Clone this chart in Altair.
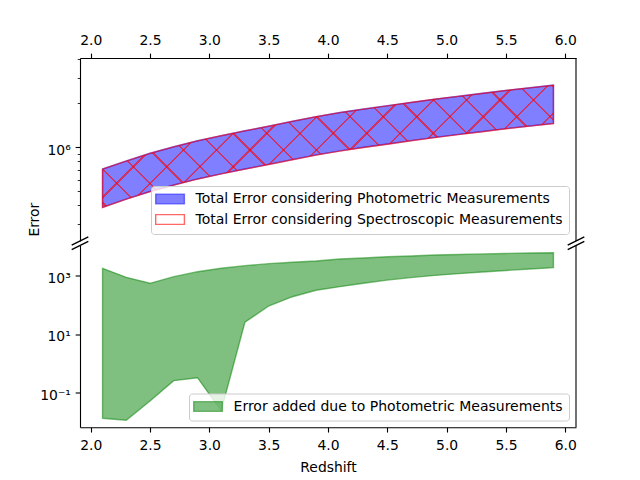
import math
import altair as alt
import pandas as pd

# ---------------- data ----------------
redshift = [2.1, 2.3, 2.5, 2.7, 2.9, 3.1, 3.3, 3.5, 3.7, 3.9,
            4.1, 4.3, 4.5, 4.7, 4.9, 5.1, 5.3, 5.5, 5.7, 5.9]

phot_high = [7.10e5, 8.07e5, 9.10e5, 1.009e6, 1.109e6, 1.202e6, 1.297e6, 1.396e6, 1.507e6, 1.622e6,
             1.730e6, 1.828e6, 1.928e6, 2.032e6, 2.138e6, 2.239e6, 2.344e6, 2.455e6, 2.559e6, 2.667e6]
phot_low = [3.88e5, 4.42e5, 4.98e5, 5.52e5, 6.07e5, 6.58e5, 7.10e5, 7.64e5, 8.24e5, 8.87e5,
            9.46e5, 1.000e6, 1.054e6, 1.112e6, 1.169e6, 1.225e6, 1.282e6, 1.343e6, 1.400e6, 1.459e6]

spec_high = [7.08e5, 8.05e5, 9.08e5, 1.007e6, 1.107e6, 1.200e6, 1.295e6, 1.393e6, 1.504e6, 1.619e6,
             1.726e6, 1.824e6, 1.923e6, 2.027e6, 2.133e6, 2.234e6, 2.338e6, 2.449e6, 2.553e6, 2.661e6]
spec_low = [3.87e5, 4.41e5, 4.97e5, 5.51e5, 6.06e5, 6.57e5, 7.08e5, 7.62e5, 8.21e5, 8.84e5,
            9.42e5, 9.96e5, 1.050e6, 1.108e6, 1.165e6, 1.221e6, 1.278e6, 1.339e6, 1.396e6, 1.455e6]

added_high = [1841, 902, 561, 949, 1406, 1841, 2264, 2652, 2960, 3280,
              3850, 4169, 4571, 4898, 5248, 5495, 5754, 5957, 6166, 6310]
added_low = [0.01276, 0.01089, 0.0504, 0.251, 0.318, 0.0233, 25.6, 92.9, 194, 322,
             429, 562, 724, 881, 1047, 1202, 1365, 1549, 1738, 1936]

x_ticks = [2.0, 2.5, 3.0, 3.5, 4.0, 4.5, 5.0, 5.5, 6.0]
top_y_ticks = [3e5, 4e5, 5e5, 6e5, 7e5, 8e5, 9e5, 1e6, 2e6, 3e6, 4e6]
bottom_y_ticks = [0.1, 10, 1000]

PHOT = "Total Error considering Photometric Measurements"
SPEC = "Total Error considering Spectroscopic Measurements"
ADD = "Error added due to Photometric Measurements"

# ---------------- layout / style ----------------
FONT = "DejaVu Sans"
FS = 13.9
LFS = 14.0
W = 496
HT = 183
HB = 181.7
LEFT, TOP = 80, 58
XDOM = [1.91, 6.09]
TOP_LOG = (5.3582, 6.6116)
BOT_LOG = (-2.2001, 4.0488)
TOP_DOM = [10 ** TOP_LOG[0], 10 ** TOP_LOG[1]]
BOT_DOM = [10 ** BOT_LOG[0], 10 ** BOT_LOG[1]]

phot = pd.DataFrame({"z": redshift, "high": phot_high, "low": phot_low, "series": PHOT})
spec = pd.DataFrame({"z": redshift, "high": spec_high, "low": spec_low, "series": SPEC})
added = pd.DataFrame({"z": redshift, "high": added_high, "low": added_low, "series": ADD})
one = pd.DataFrame({"k": [0]})


# ---------------- hatch ('x') as two striped gradients ----------------
def xpix(v):
    return (v - XDOM[0]) / (XDOM[1] - XDOM[0]) * W


def ypix_top(v):
    return (TOP_LOG[1] - math.log10(v)) / (TOP_LOG[1] - TOP_LOG[0]) * HT


X0 = LEFT + xpix(min(redshift))
X1 = LEFT + xpix(max(redshift))
Y0 = TOP + ypix_top(max(spec_high))
Y1 = TOP + ypix_top(min(spec_low))
Wb, Hb = X1 - X0, Y1 - Y0
SPAN = Wb + Hb
A = SPAN / (Wb * Wb + Hb * Hb)
PERIOD = 100 / 3
HALF = 1.45 * math.sqrt(2) / 2 / SPAN
HATCH = "rgba(255,0,0,0.6)"
CLEAR = "rgba(255,0,0,0)"


def stripe_stops(ts):
    stops = [(0.0, CLEAR)]
    for t in ts:
        a, b = t - HALF, t + HALF
        if b <= 0 or a >= 1:
            continue
        a, b = max(a, 0.0), min(b, 1.0)
        stops += [(a, CLEAR), (a, HATCH), (b, HATCH), (b, CLEAR)]
    stops.append((1.0, CLEAR))
    return [alt.GradientStop(offset=round(o, 6), color=c) for o, c in stops]


k_lo = int(math.floor((X0 + Y0 - 2 * SPAN) / PERIOD)) - 2
k_hi = int(math.ceil((X1 + Y1 + 2 * SPAN) / PERIOD)) + 2
ts_slash = [(k * PERIOD - X0 - Y0) / SPAN for k in range(k_lo, k_hi)]
ts_back = [(k * PERIOD - X0 + Y0 + Hb) / SPAN for k in range(k_lo, k_hi)]

grad_slash = alt.LinearGradient(gradient="linear", stops=stripe_stops(ts_slash),
                                x1=0, y1=0, x2=A * Wb, y2=A * Hb)
grad_back = alt.LinearGradient(gradient="linear", stops=stripe_stops(ts_back),
                               x1=0, y1=1, x2=A * Wb, y2=1 - A * Hb)

# ---------------- encodings ----------------
xscale = alt.Scale(domain=XDOM, nice=False, zero=False)
x_top = alt.X("z:Q", scale=xscale,
              axis=alt.Axis(orient="top", values=x_ticks, format=".1f", title=None, labelPadding=5.2))
x_bot = alt.X("z:Q", scale=xscale,
              axis=alt.Axis(orient="bottom", values=x_ticks, format=".1f", title="Redshift",
                            labelPadding=6.8, titlePadding=8))

y_top = alt.Y("high:Q", stack=None,
              scale=alt.Scale(type="log", domain=TOP_DOM, nice=False),
              axis=alt.Axis(values=top_y_ticks,
                            labelExpr="datum.value == 1000000 ? '10\u2076' : ''",
                            tickSize={"condition": {"test": "datum.value == 1000000", "value": 4.86},
                                      "value": 2.78},
                            tickWidth={"condition": {"test": "datum.value == 1000000", "value": 1.11},
                                       "value": 0.83},
                            labelOffset=2.8,
                            title="Error", titleX=-41.7, titleY=161.2, titleAngle=270,
                            titleAlign="center", titleBaseline="alphabetic"))
y_bot = alt.Y("high:Q", stack=None,
              scale=alt.Scale(type="log", domain=BOT_DOM, nice=False),
              axis=alt.Axis(values=bottom_y_ticks, labelOffset=2.8, title=None,
                            labelExpr="datum.value == 1000 ? '10\u00b3' : "
                                      "(datum.value == 10 ? '10\u00b9' : '10\u207b\u00b9')"))

SWATCH = "M-2.296,-0.776H2.296V0.776H-2.296Z"


def make_legend():
    return alt.Legend(title=None, orient="bottom-right", offset=6.9, padding=6, rowPadding=4.5,
                      symbolType=SWATCH, symbolSize=156.25, symbolStrokeWidth=1.39,
                      symbolOffset=6.05, labelOffset=18.5,
                      labelFont=FONT, labelFontSize=LFS, labelColor="black", labelLimit=600,
                      strokeColor="#cccccc", fillColor="rgba(255,255,255,0.8)", cornerRadius=3)


top_legend = make_legend()
top_fill = alt.Fill("series:N", legend=top_legend,
                    scale=alt.Scale(domain=[PHOT, SPEC], range=["rgba(0,0,255,0.5)", "rgba(255,255,255,0)"]))
top_stroke = alt.Stroke("series:N", legend=top_legend,
                        scale=alt.Scale(domain=[PHOT, SPEC], range=["rgba(0,0,255,0.5)", HATCH]))

bot_legend = make_legend()
bot_fill = alt.Fill("series:N", legend=bot_legend,
                    scale=alt.Scale(domain=[ADD], range=["rgba(0,128,0,0.5)"]))
bot_stroke = alt.Stroke("series:N", legend=bot_legend,
                        scale=alt.Scale(domain=[ADD], range=["rgba(0,128,0,0.5)"]))


def rule(x1, y1, x2, y2, width=1.11, opacity=1.0):
    return alt.Chart(one).mark_rule(color="black", strokeWidth=width, opacity=opacity).encode(
        x=alt.value(x1), y=alt.value(y1), x2=alt.value(x2), y2=alt.value(y2))


D, DY = 8.33, 4.17

phot_area = alt.Chart(phot).mark_area(strokeWidth=1.39).encode(
    x=x_top, y=y_top, y2=alt.Y2("low"), fill=top_fill, stroke=top_stroke)
hatch1 = alt.Chart(spec).mark_area(fill=grad_slash, strokeWidth=0).encode(
    x=x_top, y=y_top, y2=alt.Y2("low"))
hatch2 = alt.Chart(spec).mark_area(fill=grad_back, strokeWidth=0).encode(
    x=x_top, y=y_top, y2=alt.Y2("low"))
spec_area = alt.Chart(spec).mark_area(strokeWidth=1.39).encode(
    x=x_top, y=y_top, y2=alt.Y2("low"), fill=top_fill, stroke=top_stroke)

top = alt.layer(
    rule(-72, -50, -72, -49, width=0, opacity=0),
    phot_area, hatch1, hatch2, spec_area,
    rule(W, 0, W, HT),
    rule(-D, HT + DY, D, HT - DY, width=1.39),
    rule(W - D, HT + DY, W + D, HT - DY, width=1.39),
).properties(width=W, height=HT)

add_area = alt.Chart(added).mark_area(strokeWidth=1.39).encode(
    x=x_bot, y=y_bot, y2=alt.Y2("low"), fill=bot_fill, stroke=bot_stroke)

bottom = alt.layer(
    add_area,
    rule(W, 0, W, HB),
    rule(-D, DY, D, -DY, width=1.39),
    rule(W - D, DY, W + D, -DY, width=1.39),
).properties(width=W, height=HB)

chart = alt.vconcat(top, bottom, spacing=4.5, bounds="flush").resolve_scale(
    fill="independent", stroke="independent"
).properties(padding=0).configure_view(stroke=None).configure_axis(
    labelFont=FONT, labelFontSize=FS, labelColor="black",
    titleFont=FONT, titleFontSize=FS, titleFontWeight="normal", titleColor="black",
    domainColor="black", domainWidth=1.11, tickColor="black", tickWidth=1.11,
    tickSize=4.86, labelPadding=4.86, grid=False,
)

chart.save("out.html", embed_options={"renderer": "svg", "actions": False})
